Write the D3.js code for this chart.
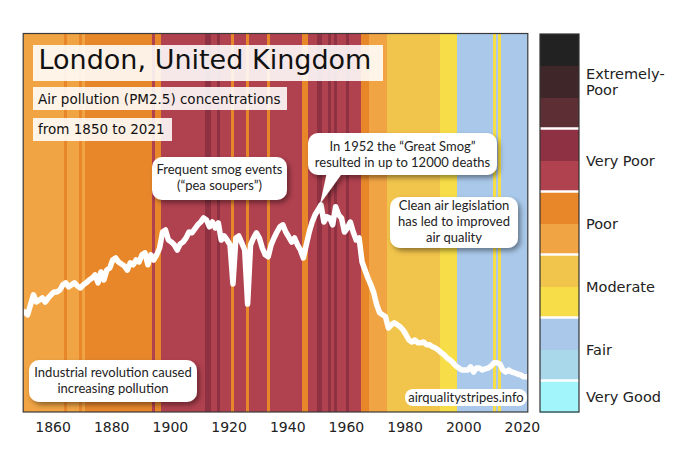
<!DOCTYPE html>
<html><head><meta charset="utf-8">
<script src="https://cdn.jsdelivr.net/npm/d3@7"></script>
<style>body{margin:0;background:#fff}svg{display:block}</style>
</head><body><svg id="c" width="696" height="464"></svg>
<script>
// ---------------- data ----------------
const firstYear = 1850;
const lastYear = 2021;
// PM2.5-like concentration (one value per year 1850..2021)
const pm25 = [
 25.0,24.3,26.8,29.3,27.5,28.0,28.5,27.5,28.5,29.3, // 1850
 30.0,30.0,30.5,31.8,32.3,31.3,31.8,32.3,31.5,31.0, // 1860
 31.8,32.3,33.0,33.5,34.3,32.3,35.0,33.0,35.5,36.0, // 1870
 38.0,38.5,37.5,37.0,36.5,35.5,37.3,36.8,38.0,37.5, // 1880
 39.3,39.8,36.8,39.3,38.0,39.3,41.0,45.0,45.5,43.0, // 1890
 42.5,41.8,40.5,42.0,42.5,43.5,45.0,44.8,45.8,46.8, // 1900
 47.5,48.5,48.0,46.3,47.5,46.0,47.3,43.0,44.0,43.0, // 1910
 41.8,32.0,43.5,44.0,42.3,40.5,27.0,41.8,43.5,44.8, // 1920
 43.5,41.0,39.3,38.8,41.8,43.5,45.0,46.3,46.8,45.0, // 1930
 43.8,42.5,43.5,41.8,40.5,38.5,41.8,45.0,47.5,49.3, // 1940
 50.5,51.8,47.5,48.8,48.5,46.8,51.3,49.3,48.5,45.0, // 1950
 46.0,47.5,45.0,43.0,43.5,37.5,35.5,33.5,31.8,29.8, // 1960
 26.8,24.8,24.3,23.8,21.0,21.8,22.3,21.8,21.3,20.5, // 1970
 19.3,18.0,17.5,18.0,17.3,17.3,17.5,16.8,16.8,16.3, // 1980
 16.0,15.5,14.8,14.3,13.5,13.0,12.3,11.5,11.0,10.5, // 1990
 10.5,10.5,11.3,10.0,11.0,11.0,10.5,10.8,11.0,11.5, // 2000
 12.3,12.3,12.0,10.5,10.0,10.5,10.0,9.8,9.5,9.3,    // 2010
 8.8,8.8                                             // 2020
];
// colour category of each year's stripe (0 = Very Good ... 11 = darkest)
const stripeLevel = [
 5,5,5,5,5,5,5,5,5,5, // 1850
 5,5,5,5,6,5,5,5,5,6, // 1860
 5,6,6,6,6,6,6,6,6,6, // 1870
 6,6,6,6,6,6,6,6,6,6, // 1880
 6,6,6,6,7,6,6,7,7,7, // 1890
 7,7,7,7,7,7,7,7,7,7, // 1900
 7,7,8,8,7,7,8,7,7,7, // 1910
 7,6,7,7,7,7,6,7,7,7, // 1920
 7,7,7,6,7,7,7,7,7,7, // 1930
 7,7,7,7,7,6,6,7,7,7, // 1940
 8,8,7,7,8,7,8,7,7,7, // 1950
 8,7,7,7,7,6,6,6,5,5, // 1960
 5,5,5,5,4,4,4,4,4,4, // 1970
 4,4,4,4,4,4,4,4,4,4, // 1980
 4,4,3,3,3,3,3,3,2,2, // 1990
 2,2,2,2,2,2,2,2,2,2, // 2000
 3,2,3,2,2,2,2,2,2,2, // 2010
 2,2                  // 2020
];
const levelColors = ["#a2f5fb","#a9d8ea","#a9c8ea","#f7dd47","#f1c44b","#f0a444",
                     "#e8872a","#b0414f","#8e3143","#5d2f35","#3f2729","#222222"];
const groupLabels = ["Very Good","Fair","Moderate","Poor","Very Poor","Extremely-\nPoor"];
const groupFirstLevel = [0,1,3,5,7,9];
const groupLastLevel  = [0,2,4,6,8,11];
const tickYears = [1860,1880,1900,1920,1940,1960,1980,2000,2020];

const titleText = "London, United Kingdom";
const subtitleLines = ["Air pollution (PM2.5) concentrations","from 1850 to 2021"];
const notes = [
  {lines:["Frequent smog events","(\u201cpea soupers\u201d)"]},
  {lines:["In 1952 the \u201cGreat Smog\u201d","resulted in up to 12000 deaths"]},
  {lines:["Clean air legislation","has led to improved","air quality"]},
  {lines:["Industrial revolution caused","increasing pollution"]}
];
const creditText = "airqualitystripes.info";

// ---------------- layout ----------------
const svg = d3.select("#c");
const P = {left:23.2, right:527.8, top:33.5, bottom:412};
const x = d3.scaleLinear().domain([firstYear, lastYear+1]).range([P.left, P.right]);
const y = d3.scaleLinear().domain([0, 94.625]).range([P.bottom, P.top]);
const data = pm25.map((v,i)=>({year:firstYear+i, v, level:stripeLevel[i]}));

const defs = svg.append("defs");
const f = defs.append("filter").attr("id","sh").attr("x","-20%").attr("y","-30%").attr("width","150%").attr("height","180%");
f.append("feDropShadow").attr("dx",2.5).attr("dy",3).attr("stdDeviation",2.5)
 .attr("flood-color","#000").attr("flood-opacity",0.4);
defs.append("clipPath").attr("id","pc").append("rect")
 .attr("x",P.left).attr("y",P.top).attr("width",P.right-P.left).attr("height",P.bottom-P.top);

const plot = svg.append("g").attr("clip-path","url(#pc)");
plot.append("g").attr("shape-rendering","crispEdges")
  .selectAll("rect.s").data(data).join("rect").attr("class","s")
  .attr("x",d=>x(d.year)).attr("y",P.top)
  .attr("width",d=>x(d.year+1)-x(d.year)+0.5).attr("height",P.bottom-P.top)
  .attr("fill",d=>levelColors[d.level]);

plot.append("path").datum(data)
  .attr("d", d3.line().x(d=>x(d.year+0.5)).y(d=>y(d.v)))
  .attr("fill","none").attr("stroke","#fff").attr("stroke-width",5.5)
  .attr("stroke-linejoin","round").attr("stroke-linecap","round");

// title boxes
const tg = svg.append("g").attr("font-family","DejaVu Sans").attr("fill","#111");
function labelBox(bx,by,bw,bh,tx,ty,size,str){
  tg.append("rect").attr("x",bx).attr("y",by).attr("width",bw).attr("height",bh)
    .attr("fill","#fff").attr("fill-opacity",0.88);
  tg.append("text").attr("x",tx).attr("y",ty).attr("font-size",size).text(str);
}
labelBox(33,45,350,36,38.5,69,27,titleText);
labelBox(33,87,254,23,38,103.5,13.5,subtitleLines[0]);
labelBox(33,118,139,23,38,134,13.5,subtitleLines[1]);

// annotation bubbles
const boxes = [
  {x:152,y:157,w:135,h:43,cx:219.5,base:[174,190]},
  {x:308,y:133,w:189,h:42,cx:402.5,base:[151,167],tail:[[327,172],[343,172],[320,204]]},
  {x:390,y:197,w:128,h:51,cx:454,base:[210,226,242]},
  {x:29,y:360,w:168,h:42,cx:113,base:[377,393]}
];
const ag = svg.append("g");
boxes.forEach((b,i)=>{
  const g = ag.append("g").attr("filter","url(#sh)");
  if(b.tail) g.append("polygon").attr("points",b.tail.map(p=>p.join(",")).join(" ")).attr("fill","#fff");
  g.append("rect").attr("x",b.x).attr("y",b.y).attr("width",b.w).attr("height",b.h)
    .attr("rx",10).attr("fill","#fff");
  notes[i].lines.forEach((ln,j)=>{
    ag.append("text").attr("x",b.cx).attr("y",b.base[j]).attr("text-anchor","middle")
      .attr("font-family","Lato").attr("font-size",13).attr("fill","#222").text(ln);
  });
});
// credit
ag.append("rect").attr("x",405).attr("y",389).attr("width",122).attr("height",17).attr("rx",8).attr("fill","#fff");
ag.append("text").attr("x",466).attr("y",402).attr("text-anchor","middle")
  .attr("font-family","Lato").attr("font-size",13).attr("fill","#222").text(creditText);

// plot frame
svg.append("rect").attr("x",P.left).attr("y",P.top).attr("width",P.right-P.left).attr("height",P.bottom-P.top)
  .attr("fill","none").attr("stroke","#3a3a3a").attr("stroke-width",1.2);

// x axis
const ax = svg.append("g").attr("transform",`translate(0,${P.bottom})`)
  .call(d3.axisBottom(x).tickValues(tickYears).tickFormat(d3.format("d")).tickSize(0).tickPadding(10));
ax.select(".domain").remove();
ax.selectAll("text").attr("font-family","DejaVu Sans").attr("font-size",14).attr("fill","#222");

// colour bar
const CB = {x:540, w:39, top:34, bottom:412};
const cb = d3.scaleLinear().domain([12,0]).range([CB.top, CB.bottom]);
const cbg = svg.append("g");
cbg.append("g").attr("shape-rendering","crispEdges").selectAll("rect").data(levelColors).join("rect")
  .attr("x",CB.x).attr("y",(c,i)=>cb(i+1)).attr("width",CB.w).attr("height",(c,i)=>cb(i)-cb(i+1)+0.5)
  .attr("fill",c=>c);
cbg.selectAll("line.sep").data(groupFirstLevel.slice(1)).join("line").attr("class","sep")
  .attr("x1",CB.x).attr("x2",CB.x+CB.w).attr("y1",d=>cb(d)).attr("y2",d=>cb(d))
  .attr("stroke","#fff").attr("stroke-width",2.5);
cbg.append("rect").attr("x",CB.x).attr("y",CB.top).attr("width",CB.w).attr("height",CB.bottom-CB.top)
  .attr("fill","none").attr("stroke","#333").attr("stroke-width",1.2);
groupLabels.forEach((lab,i)=>{
  const yc = (cb(groupFirstLevel[i]) + cb(groupLastLevel[i]+1))/2;
  const parts = lab.split("\n");
  const t = cbg.append("text").attr("x",586).attr("font-family","DejaVu Sans").attr("font-size",14.5).attr("fill","#222");
  parts.forEach((p,j)=>{
    t.append("tspan").attr("x",586).attr("y",yc + 5.5 + (j-(parts.length-1)/2)*16.5).text(p);
  });
});
</script></body></html>
